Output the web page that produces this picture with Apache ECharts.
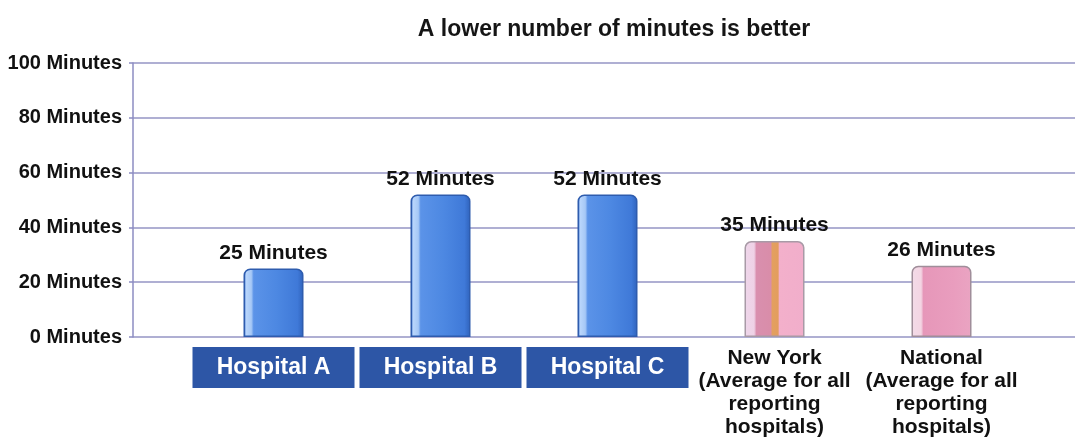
<!DOCTYPE html>
<html>
<head>
<meta charset="utf-8">
<script src="https://cdn.jsdelivr.net/npm/echarts@6/dist/echarts.min.js"></script>
<style>
  html, body { margin: 0; padding: 0; background: #fff; }
  #chart { width: 1075px; height: 439px; }
</style>
</head>
<body>
<div id="chart"></div>
<script>
// Emergency wait times in minutes
const categories = [
  'Hospital A',
  'Hospital B',
  'Hospital C',
  'New York\n(Average for all\nreporting\nhospitals)',
  'National\n(Average for all\nreporting\nhospitals)'
];
const minutes = [25, 52, 52, 35, 26];
const yTicks = [0, 20, 40, 60, 80, 100];
const unit = 'Minutes';
const chartTitle = 'A lower number of minutes is better';

const FONT = '"Liberation Sans", Arial, Helvetica, sans-serif';

function hGrad(stops) {
  return new echarts.graphic.LinearGradient(0, 0, 1, 0,
    stops.map(s => ({ offset: s[0], color: s[1] })));
}

const blueFill = hGrad([
  [0, '#3a6fcc'], [0.05, '#b8d5fb'], [0.13, '#a6c8f6'], [0.17, '#5b93e8'],
  [0.55, '#4d88e2'], [0.9, '#3f79d8'], [1, '#2f62bb']
]);
const nyFill = hGrad([
  [0, '#eed6ea'], [0.16, '#efd2e6'], [0.2, '#d98fae'], [0.44, '#d98da9'],
  [0.46, '#e3a060'], [0.56, '#e39d5e'], [0.58, '#f3b0cb'], [1, '#f1aecb']
]);
const natFill = hGrad([
  [0, '#f3dbe8'], [0.16, '#f3d5e3'], [0.2, '#e697b9'], [0.7, '#e99dbe'], [1, '#eaa4c2']
]);

function barStyle(i) {
  if (i < 3) return { color: blueFill, borderColor: '#2e5cae', borderWidth: 1.5, borderRadius: [6, 6, 0, 0] };
  if (i === 3) return { color: nyFill, borderColor: '#a89aa6', borderWidth: 1.5, borderRadius: [6, 6, 0, 0] };
  return { color: natFill, borderColor: '#a08e9a', borderWidth: 1.5, borderRadius: [6, 6, 0, 0] };
}

const chart = echarts.init(document.getElementById('chart'), null, { renderer: 'canvas' });

const yMin = yTicks[0];
const yMax = yTicks[yTicks.length - 1];
const yStep = yTicks[1] - yTicks[0];

chart.setOption({
  backgroundColor: '#ffffff',
  animation: false,
  title: {
    text: chartTitle,
    left: 609, textAlign: 'center', top: 13,
    textStyle: { fontFamily: FONT, fontSize: 23, fontWeight: 'bold', color: '#151515' }
  },
  grid: [
    { left: 133, right: 0, top: 63, bottom: 102 },
    { left: 190, right: 50, top: 63, bottom: 102 }
  ],
  xAxis: [
    { gridIndex: 0, type: 'value', show: false, min: 0, max: 1 },
    {
      gridIndex: 1, type: 'category', data: categories,
      axisLine: { show: false }, axisTick: { show: false },
      axisLabel: {
        interval: 0, margin: 10,
        formatter: function (v) {
          return v.indexOf('\n') < 0 ? '{box|' + v + '}' : '{txt|' + v + '}';
        },
        rich: {
          box: {
            backgroundColor: '#2d56a6', color: '#ffffff',
            width: 162, height: 41, lineHeight: 41, align: 'center',
            fontFamily: FONT, fontSize: 23, fontWeight: 'bold'
          },
          txt: {
            color: '#111111', lineHeight: 23, align: 'center',
            fontFamily: FONT, fontSize: 21, fontWeight: 'bold'
          }
        }
      }
    }
  ],
  yAxis: [
    {
      gridIndex: 0, type: 'value', min: yMin, max: yMax, interval: yStep,
      axisLine: { show: true, lineStyle: { color: '#8c8cc2', width: 1.5 } },
      axisTick: { show: true, length: 4, lineStyle: { color: '#8c8cc2', width: 1.5 } },
      splitLine: { show: true, lineStyle: { color: '#9494c4', width: 1.5 } },
      axisLabel: {
        margin: 11,
        formatter: v => v + ' ' + unit,
        fontFamily: FONT, fontSize: 20, fontWeight: 'bold', color: '#111111'
      }
    },
    {
      gridIndex: 1, type: 'value', min: yMin, max: yMax, interval: yStep, show: false
    }
  ],
  series: [{
    type: 'bar',
    xAxisIndex: 1, yAxisIndex: 1,
    barWidth: 60,
    data: minutes.map((v, i) => ({ value: v, itemStyle: barStyle(i) })),
    label: {
      show: true, position: 'top', distance: 5,
      formatter: p => p.value + ' ' + unit,
      fontFamily: FONT, fontSize: 21, fontWeight: 'bold', color: '#111111'
    }
  }]
});
</script>
</body>
</html>
